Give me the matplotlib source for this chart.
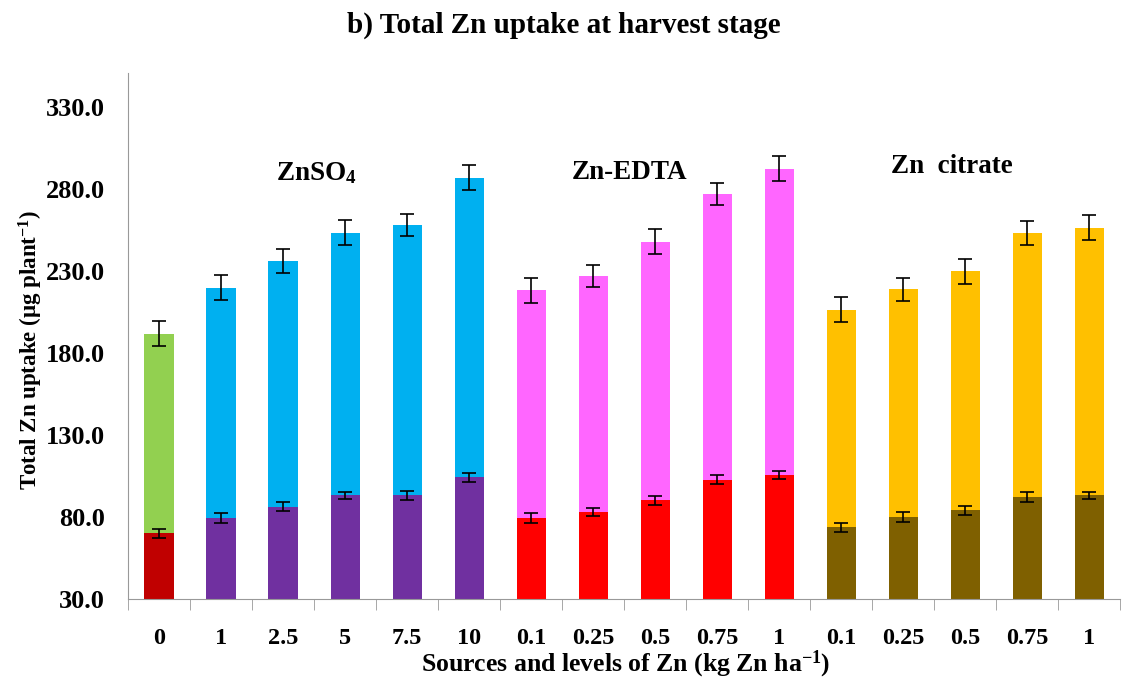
import numpy as np
import matplotlib
matplotlib.use('Agg')
import matplotlib.pyplot as plt

# levels on the x axis
levels = ['0', '1', '2.5', '5', '7.5', '10',
          '0.1', '0.25', '0.5', '0.75', '1',
          '0.1', '0.25', '0.5', '0.75', '1']

# lower segment (value at its top) and total height of each bar
lower = [70.0, 79.2, 86.3, 93.2, 93.2, 104.2,
         79.2, 83.0, 90.2, 102.8, 105.8,
         73.7, 80.0, 84.1, 92.4, 93.2]
total = [192.0, 220.0, 236.5, 253.6, 258.2, 287.1,
         218.4, 227.0, 248.1, 277.2, 292.6,
         206.6, 219.0, 230.0, 253.4, 256.6]
lower_err = [2.6, 3.0, 2.9, 2.2, 2.8, 2.8,
             3.0, 2.6, 2.6, 2.6, 2.6,
             2.8, 2.8, 2.6, 3.0, 2.2]
total_err = [7.5, 7.5, 7.3, 7.5, 6.9, 7.5,
             7.5, 6.7, 7.5, 6.7, 7.7,
             7.7, 6.9, 7.7, 7.1, 7.5]

groups = ['ZnSO$_4$', 'Zn-EDTA', 'Zn  citrate']

low_colors = ['#C00000'] + ['#7030A0'] * 5 + ['#FF0000'] * 5 + ['#7F6000'] * 5
top_colors = ['#92D050'] + ['#00B0F0'] * 5 + ['#FF66FF'] * 5 + ['#FFC000'] * 5

plt.rcParams['font.family'] = ['Liberation Serif', 'DejaVu Serif']
plt.rcParams['font.weight'] = 'bold'
plt.rcParams['mathtext.fontset'] = 'custom'
plt.rcParams['mathtext.rm'] = 'Liberation Serif:bold'
plt.rcParams['mathtext.it'] = 'Liberation Serif:bold'
plt.rcParams['mathtext.bf'] = 'Liberation Serif:bold'
plt.rcParams['mathtext.default'] = 'rm'

fig = plt.figure(figsize=(11.27, 6.82), dpi=100)
ax = fig.add_axes([0.1136, 0.1217, 0.8804, 0.7713])

x = np.arange(len(levels))
base = 30.0
low_h = np.array(lower) - base
top_h = np.array(total) - np.array(lower)

w = 0.47
ax.bar(x, low_h, w, bottom=base, color=low_colors, zorder=2)
ax.bar(x, top_h, w, bottom=lower, color=top_colors, zorder=2)
ax.errorbar(x, lower, yerr=lower_err, fmt='none', ecolor='black',
            elinewidth=1.2, capsize=5, capthick=1.2, zorder=3)
ax.errorbar(x, total, yerr=total_err, fmt='none', ecolor='black',
            elinewidth=1.2, capsize=5, capthick=1.2, zorder=3)

ax.set_xlim(-0.5, len(levels) - 0.5)
ax.set_ylim(30, 351)
ax.set_yticks(np.arange(30, 331, 50))
ax.set_yticklabels(['%.1f' % v for v in np.arange(30, 331, 50)])
ax.set_xticks(x)
ax.set_xticklabels(levels)
ax.set_xticks(np.arange(-0.5, len(levels), 1), minor=True)

ax.tick_params(axis='y', length=0, pad=16.5, labelsize=19)
ax.tick_params(axis='x', which='major', length=0, pad=21, labelsize=17.5)
ax.tick_params(axis='x', which='minor', length=8, color='#999999')

for s in ['top', 'right']:
    ax.spines[s].set_visible(False)
for s in ['left', 'bottom']:
    ax.spines[s].set_color('#999999')

fig.text(0.027, 0.487, 'Total Zn uptake (µg plant$^{-1}$)', fontsize=16.5,
         fontweight='bold', rotation=90, ha='center', va='center')
fig.text(0.555, 0.026, 'Sources and levels of Zn (kg Zn ha$^{-1}$)', fontsize=18.5,
         fontweight='bold', ha='center', va='center')

ax.text(2.53, 290, groups[0], fontsize=19.5, fontweight='bold', ha='center', va='center')
ax.text(7.58, 290, groups[1], fontsize=19.5, fontweight='bold', ha='center', va='center')
ax.text(12.79, 294, groups[2], fontsize=19.5, fontweight='bold', ha='center', va='center')

fig.text(0.5, 0.963, 'b) Total Zn uptake at harvest stage', fontsize=21,
         fontweight='bold', ha='center', va='center')

fig.savefig('out.png', dpi=100)
